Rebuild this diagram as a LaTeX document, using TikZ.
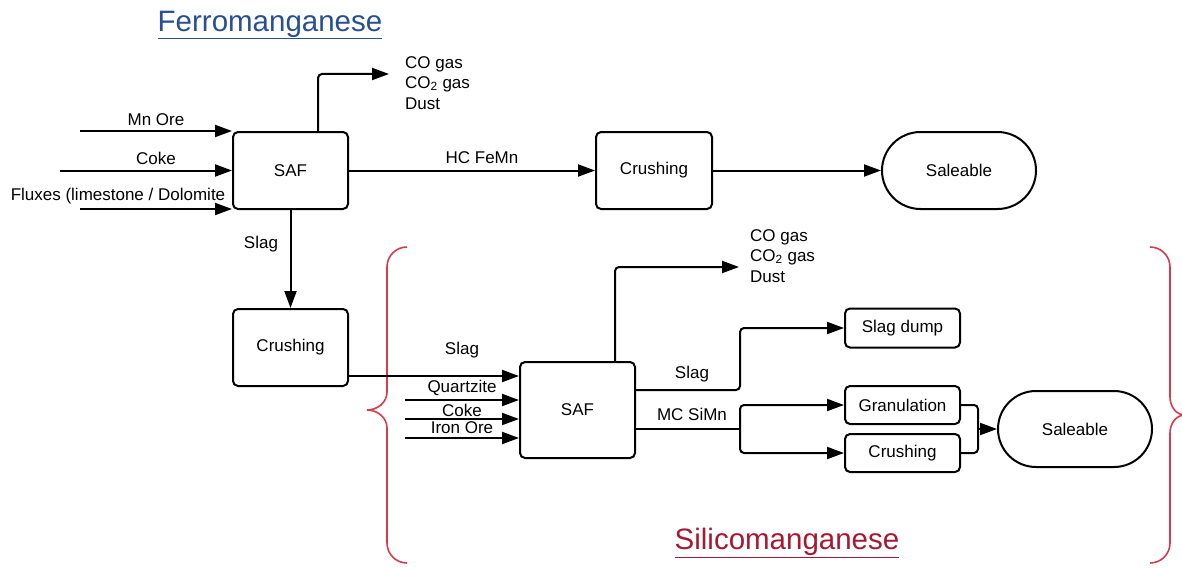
\documentclass[tikz,border=0pt]{standalone}
\usepackage{fontspec}
\setmainfont{Liberation Sans}
\usetikzlibrary{arrows.meta,shapes.misc}
\definecolor{ferroblue}{RGB}{40,80,145}
\definecolor{silired}{RGB}{165,25,50}
\definecolor{bracered}{RGB}{215,60,75}
\tikzset{
  box/.style={draw,line width=2pt,rounded corners=5pt,inner sep=0pt,font=\fontsize{17}{20}\selectfont},
  pill/.style={draw,line width=2pt,rounded rectangle,inner sep=0pt,font=\fontsize{17}{20}\selectfont},
  arr/.style={line width=2pt,rounded corners=4pt,-{Triangle[length=17pt,width=12pt]}},
  ln/.style={line width=2pt,rounded corners=4pt},
  lbl/.style={inner sep=0pt,font=\fontsize{17}{20}\selectfont},
  brace/.style={draw=bracered,line width=1.6pt},
  title/.style={inner sep=0pt,font=\fontsize{29.5}{34}\selectfont}
}
\begin{document}
\begin{tikzpicture}[x=1pt,y=-1pt]
\useasboundingbox (0,0) rectangle (1182,567);

% titles
\node[title,text=ferroblue] (t1) at (270,25) {\underline{Ferromanganese}};
\node[title,text=silired] (t2) at (787,543) {\underline{Silicomanganese}};

% braces
\draw[brace] (407,247) to[out=180,in=90] (387,267) -- (387,392) to[out=-90,in=0] (367,410) to[out=0,in=90] (387,428) -- (387,543) to[out=-90,in=180] (407,563);
\draw[brace] (1150,247) to[out=0,in=90] (1170,267) -- (1170,397) to[out=-90,in=180] (1185,415) to[out=180,in=90] (1170,433) -- (1170,543) to[out=-90,in=0] (1150,563);

% nodes
\node[box,minimum width=115pt,minimum height=77pt] (saf1) at (290.5,170.5) {SAF};
\node[box,minimum width=116pt,minimum height=77pt] (crush1) at (654,170.5) {Crushing};
\node[pill,minimum width=154pt,minimum height=77pt] (sale1) at (959,170.5) {Saleable};
\node[box,minimum width=115pt,minimum height=77pt] (crushL) at (290.5,347.5) {Crushing};
\node[box,minimum width=115pt,minimum height=96pt] (saf2) at (577.5,410) {SAF};
\node[box,minimum width=115pt,minimum height=39pt] (dump) at (902.5,328) {Slag dump};
\node[box,minimum width=115pt,minimum height=38pt] (gran) at (902.5,405) {Granulation};
\node[box,minimum width=115pt,minimum height=38pt] (crush2) at (902.5,453) {Crushing};
\node[pill,minimum width=154pt,minimum height=76pt] (sale2) at (1075,429) {Saleable};

% inputs to SAF1
\coordinate (inMn) at (80,131);
\coordinate (inCoke) at (60,170.5);
\coordinate (inFlux) at (80,209);
\draw[arr] (inMn) -- (inMn -| saf1.west);
\draw[arr] (inCoke) -- (saf1.west);
\draw[arr] (inFlux) -- (inFlux -| saf1.west);
\node[lbl] (lMn) at (156,120) {Mn Ore};
\node[lbl] (lCoke) at (156,158) {Coke};
\node[lbl] (lFlux) at (118,196) {Fluxes (limestone / Dolomite};

% gas exit 1
\coordinate (g1) at (389,74);
\draw[arr] ([xshift=27.5pt]saf1.north) |- (g1);
\node[lbl,anchor=west] (gA) at (405,64) {CO gas};
\node[lbl,anchor=west] (gB) at (405,84) {CO\textsubscript{2} gas};
\node[lbl,anchor=west] (gC) at (405,104) {Dust};

% main flow
\draw[arr] (saf1) -- (crush1);
\node[lbl] (lHC) at (482,158) {HC FeMn};
\draw[arr] (crush1) -- (sale1);
\draw[arr] (saf1) -- (crushL);
\node[lbl] (lSlag1) at (261,244) {Slag};

% crushing -> SAF2
\coordinate (cs) at (348,376);
\draw[arr] (cs) -- (cs -| saf2.west);
\node[lbl] (lSlag2) at (462,350) {Slag};
\coordinate (inQ) at (405,400);
\coordinate (inC2) at (405,419);
\coordinate (inFe) at (405,438);
\draw[arr] (inQ) -- (inQ -| saf2.west);
\draw[arr] (inC2) -- (inC2 -| saf2.west);
\draw[arr] (inFe) -- (inFe -| saf2.west);
\node[lbl] (lQ) at (462,388) {Quartzite};
\node[lbl] (lC2) at (462,410) {Coke};
\node[lbl] (lFe) at (462,428) {Iron Ore};

% gas exit 2
\coordinate (g2) at (739,267);
\draw[arr] ([xshift=37.5pt]saf2.north) |- (g2);
\node[lbl,anchor=west] (hA) at (750,237) {CO gas};
\node[lbl,anchor=west] (hB) at (750,257) {CO\textsubscript{2} gas};
\node[lbl,anchor=west] (hC) at (750,277) {Dust};

% SAF2 outputs
\coordinate (so) at (635,390);
\draw[arr] (so -| saf2.east) -- (740,390) |- (dump.west);
\node[lbl] (lSlag3) at (692,374) {Slag};
\coordinate (mo) at (635,429);
\coordinate (br) at (740,429);
\draw[ln] (mo -| saf2.east) -- (br);
\draw[arr] (br) |- (gran.west);
\draw[arr] (br) |- (crush2.west);
\node[lbl] (lMC) at (692,414) {MC SiMn};

% merge
\coordinate (mg) at (978,429);
\draw[ln] (gran.east) -| (mg);
\draw[ln] (crush2.east) -| (mg);
\draw[arr] (mg) -- (sale2.west);
\end{tikzpicture}
\end{document}
